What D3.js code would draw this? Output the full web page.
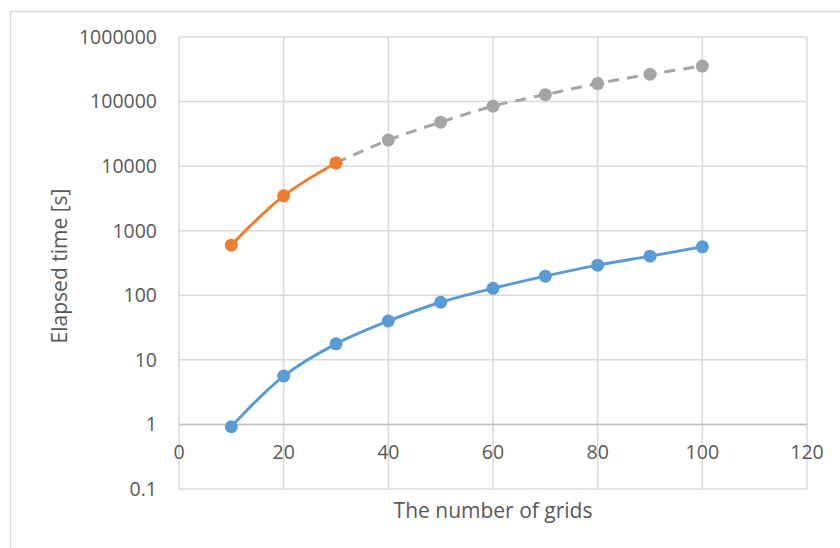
<!DOCTYPE html>
<html>
<head>
<meta charset="utf-8">
<script src="https://cdn.jsdelivr.net/npm/d3@7"></script>
<style>
  body { margin: 0; background: #fff; }
  text { font-family: "Open Sans", "Liberation Sans", sans-serif; fill: #595959; }
</style>
</head>
<body>
<script>
// chart size
var w = 840;
var h = 548;

// data
var gridsBlue = [10, 20, 30, 40, 50, 60, 70, 80, 90, 100];
var timeBlue = [0.92, 5.6, 17.7, 40, 78, 128, 198, 293, 404, 563];

var gridsOrange = [10, 20, 30];
var timeOrange = [598, 3470, 11200];

var gridsGray = [30, 40, 50, 60, 70, 80, 90, 100];
var timeGray = [11200, 25300, 48000, 85000, 128000, 190000, 265000, 355000];

var xTicks = [0, 20, 40, 60, 80, 100, 120];
var yTicks = [0.1, 1, 10, 100, 1000, 10000, 100000, 1000000];

// plot area (window.top is taken, so own names)
var plotLeft = 179, plotRight = 807, plotTop = 37, plotBottom = 489;

var svg = d3.select("body").append("svg")
    .attr("width", w)
    .attr("height", h);

// outer chart border (right and bottom run off the picture)
svg.append("rect")
    .attr("x", 10.5).attr("y", 11.5)
    .attr("width", 900).attr("height", 600)
    .attr("fill", "none")
    .attr("stroke", "#d9d9d9")
    .attr("stroke-width", 1.5);

var x = d3.scaleLinear().domain([0, 120]).range([plotLeft, plotRight]);
var y = d3.scaleLog().domain([0.1, 1000000]).range([plotBottom, plotTop]);

// horizontal grid
svg.selectAll(".hgrid")
    .data(yTicks)
    .enter()
    .append("line")
    .attr("x1", plotLeft).attr("x2", plotRight)
    .attr("y1", function(d) { return y(d); })
    .attr("y2", function(d) { return y(d); })
    .attr("stroke", "#d9d9d9")
    .attr("stroke-width", 1.5);

// vertical grid
svg.selectAll(".vgrid")
    .data(xTicks)
    .enter()
    .append("line")
    .attr("y1", plotTop).attr("y2", plotBottom)
    .attr("x1", function(d) { return x(d); })
    .attr("x2", function(d) { return x(d); })
    .attr("stroke", "#d9d9d9")
    .attr("stroke-width", 1.5);

// x axis crosses at y = 1
svg.append("line")
    .attr("x1", plotLeft).attr("x2", plotRight)
    .attr("y1", y(1)).attr("y2", y(1))
    .attr("stroke", "#bfbfbf")
    .attr("stroke-width", 1.5);

// y tick labels
svg.selectAll(".ylab")
    .data(yTicks)
    .enter()
    .append("text")
    .attr("x", 157)
    .attr("y", function(d) { return y(d); })
    .attr("dy", "0.35em")
    .attr("text-anchor", "end")
    .attr("font-size", "19.5px")
    .text(function(d) { return d < 1 ? "0.1" : d3.format("d")(d); });

// x tick labels
svg.selectAll(".xlab")
    .data(xTicks)
    .enter()
    .append("text")
    .attr("x", function(d) { return x(d); })
    .attr("y", y(1) + 35)
    .attr("text-anchor", "middle")
    .attr("font-size", "19.5px")
    .text(function(d) { return d; });

// axis titles
svg.append("text")
    .attr("transform", "translate(60,266) rotate(-90)")
    .attr("dy", "0.35em")
    .attr("text-anchor", "middle")
    .attr("font-size", "21px")
    .text("Elapsed time [s]");

svg.append("text")
    .attr("x", 493)
    .attr("y", 518)
    .attr("text-anchor", "middle")
    .attr("font-size", "21px")
    .text("The number of grids");

var line = d3.line()
    .x(function(d) { return x(d[0]); })
    .y(function(d) { return y(d[1]); })
    .curve(d3.curveCatmullRom.alpha(0.5));

function drawSeries(xs, ys, color, dash) {
    var pts = d3.zip(xs, ys);
    svg.append("path")
        .datum(pts)
        .attr("d", line)
        .attr("fill", "none")
        .attr("stroke", color)
        .attr("stroke-width", 3)
        .attr("stroke-dasharray", dash);
    svg.append("g").selectAll("circle")
        .data(pts)
        .enter()
        .append("circle")
        .attr("cx", function(d) { return x(d[0]); })
        .attr("cy", function(d) { return y(d[1]); })
        .attr("r", 6.5)
        .attr("fill", color);
}

drawSeries(gridsGray, timeGray, "#a5a5a5", "11,8");
drawSeries(gridsBlue, timeBlue, "#5b9bd5", null);
drawSeries(gridsOrange, timeOrange, "#ed7d31", null);
</script>
</body>
</html>
